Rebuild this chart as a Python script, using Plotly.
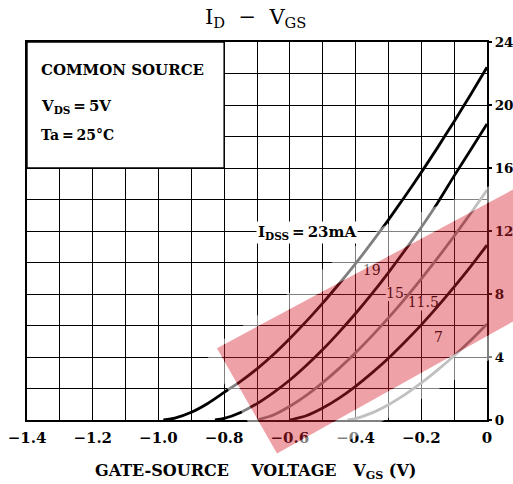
import plotly.graph_objects as go

# ---- data ----
vgs_23 = [-0.985, -0.95, -0.9, -0.85, -0.8, -0.75, -0.7, -0.65, -0.6, -0.55, -0.5,
          -0.45, -0.4, -0.35, -0.3, -0.25, -0.2, -0.15, -0.1, -0.05, 0.0]
id_23 = [0.0, 0.12, 0.49, 1.05, 1.75, 2.45, 3.25, 4.16, 5.18, 6.26, 7.42,
         8.65, 9.93, 11.29, 12.71, 14.19, 15.72, 17.31, 18.96, 20.65, 22.4]

vgs_19 = [-0.828, -0.8, -0.75, -0.7, -0.65, -0.6, -0.55, -0.5, -0.45, -0.4,
          -0.35, -0.3, -0.25, -0.2, -0.15, -0.1, -0.05, 0.0]
id_19 = [0.0, 0.1, 0.48, 1.04, 1.74, 2.54, 3.46, 4.47, 5.58, 6.76,
         8.02, 9.36, 10.77, 12.24, 13.8, 15.5, 17.15, 18.8]

vgs_15 = [-0.70, -0.65, -0.6, -0.55, -0.5, -0.45, -0.4, -0.35, -0.3, -0.25,
          -0.2, -0.15, -0.1, -0.05, 0.0]
id_15 = [0.0, 0.32, 0.87, 1.56, 2.37, 3.28, 4.27, 5.34, 6.48, 7.69,
         8.96, 10.29, 11.68, 13.11, 14.6]

vgs_115 = [-0.6, -0.55, -0.5, -0.45, -0.4, -0.35, -0.3, -0.25, -0.2, -0.15,
           -0.1, -0.05, 0.0]
id_115 = [0.0, 0.27, 0.76, 1.39, 2.14, 2.99, 3.92, 4.95, 6.04, 7.21,
          8.45, 9.74, 11.1]

vgs_7 = [-0.425, -0.4, -0.35, -0.3, -0.25, -0.2, -0.15, -0.1, -0.05, 0.0]
id_7 = [0.0, 0.09, 0.45, 0.97, 1.61, 2.35, 3.18, 4.08, 5.05, 6.1]

curve_labels = ["19", "15", "11.5", "7"]
x_tick_vals = [-1.4, -1.2, -1.0, -0.8, -0.6, -0.4, -0.2, 0.0]
x_tick_text = ["\u22121.4", "\u22121.2", "\u22121.0", "\u22120.8", "\u22120.6",
               "\u22120.4", "\u22120.2", "0"]
y_tick_vals = [0, 4, 8, 12, 16, 20, 24]
y_tick_text = ["0", "4", "8", "12", "16", "20", "24"]

FONT = "DejaVu Serif"
BLACK = "#000000"
GRAY = "#808080"
NB = "\u00a0"

fig = go.Figure()

series = [
    (vgs_23, id_23, BLACK),
    (vgs_19, id_19, BLACK),
    (vgs_15, id_15, GRAY),
    (vgs_115, id_115, BLACK),
    (vgs_7, id_7, GRAY),
]
for xs, ys, col in series:
    fig.add_trace(go.Scatter(x=xs, y=ys, mode="lines",
                             line=dict(color=col, width=2.8, shape="spline", smoothing=0.6),
                             showlegend=False, hoverinfo="skip", cliponaxis=True))

# curve labels (as a text trace so the watermark tints them)
label_x = [-0.351, -0.280, -0.194, -0.148]
label_y = [9.45, 8.0, 7.4, 5.15]
fig.add_trace(go.Scatter(x=label_x, y=label_y, mode="text", text=curve_labels,
                         textfont=dict(family=FONT, size=14, color=BLACK),
                         textposition="middle center", showlegend=False,
                         hoverinfo="skip"))

shapes = []
# white patches behind curve labels (hide grid lines)
patch_w = [0.028, 0.028, 0.05, 0.016]
for lx, ly, w in zip(label_x, label_y, patch_w):
    shapes.append(dict(type="rect", xref="x", yref="y", x0=lx - w, x1=lx + w,
                       y0=ly - 0.45, y1=ly + 0.45, fillcolor="white",
                       line=dict(width=0), layer="between"))
# condition box
shapes.append(dict(type="rect", xref="x", yref="y", x0=-1.4, x1=-0.8, y0=16, y1=24,
                   fillcolor="white", line=dict(color=BLACK, width=1.4), layer="between"))
# watermark: white glow around a translucent red band
band = "M0.413,0.19 L1.06,0.612 L1.06,0.263 L0.5435,-0.0887 Z"
glow = "M0.387,0.1787 L0.7739,0.5122 L1.06,0.6445 L1.06,0.1972 L0.5565,-0.1548 Z"
shapes.append(dict(type="path", xref="paper", yref="paper", path=glow + " " + band,
                   fillrule="evenodd",
                   fillcolor="rgba(255,255,255,0.5)", line=dict(width=0), layer="above"))
shapes.append(dict(type="path", xref="paper", yref="paper", path=band,
                   fillcolor="rgba(215,30,45,0.42)", line=dict(width=0), layer="above"))

annotations = [
    dict(text="I<sub>D</sub>" + NB * 2 + "\u2212" + NB * 2 + "V<sub>GS</sub>",
         xref="paper", yref="paper",
         x=0.497, y=1.063, showarrow=False, xanchor="center", yanchor="middle",
         font=dict(family=FONT, size=21, color=BLACK)),
    dict(text="COMMON SOURCE", xref="paper", yref="paper", x=0.026, y=0.925,
         showarrow=False, xanchor="left", yanchor="middle",
         font=dict(family=FONT, size=15, color=BLACK, weight="bold")),
    dict(text="V<sub>DS</sub>\u2009=\u20095V", xref="paper", yref="paper", x=0.026, y=0.83,
         showarrow=False, xanchor="left", yanchor="middle",
         font=dict(family=FONT, size=15, color=BLACK, weight="bold")),
    dict(text="Ta\u2009=\u200925\u00b0C", xref="paper", yref="paper", x=0.026, y=0.755,
         showarrow=False, xanchor="left", yanchor="middle",
         font=dict(family=FONT, size=14, color=BLACK, weight="bold")),
    dict(text="I<sub>DSS</sub>\u2009=\u200923mA", xref="x", yref="y", x=-0.549, y=11.9,
         showarrow=False, xanchor="center", yanchor="middle", bgcolor="white",
         borderpad=1, font=dict(family=FONT, size=15, color=BLACK, weight="bold")),
    dict(text="GATE-SOURCE" + NB * 4 + "VOLTAGE" + NB * 3 + "V<sub>GS</sub> (V)",
         xref="paper", yref="paper", x=0.496, y=-0.135, showarrow=False,
         xanchor="center", yanchor="middle",
         font=dict(family=FONT, size=16, color=BLACK, weight="bold")),
]

fig.update_layout(
    width=513, height=484,
    margin=dict(l=27, r=26, t=42, b=64, autoexpand=False),
    paper_bgcolor="white", plot_bgcolor="white",
    shapes=shapes, annotations=annotations,
    font=dict(family=FONT, color=BLACK),
)
fig.update_xaxes(range=[-1.4, 0], tickmode="array", tickvals=x_tick_vals,
                 ticktext=x_tick_text, showgrid=True, gridcolor=BLACK, gridwidth=1.3,
                 minor=dict(dtick=0.1, tick0=0, showgrid=True, gridcolor=BLACK, gridwidth=1.3),
                 showline=True, linecolor=BLACK, linewidth=2, mirror=True,
                 ticks="", zeroline=False, ticklabelstandoff=3, automargin=False,
                 tickfont=dict(family=FONT, size=15, color=BLACK, weight="bold"))
fig.update_yaxes(range=[0, 24], side="right", tickmode="array", tickvals=y_tick_vals,
                 ticktext=y_tick_text, showgrid=True, gridcolor=BLACK, gridwidth=1.3,
                 minor=dict(dtick=2, tick0=0, showgrid=True, gridcolor=BLACK, gridwidth=1.3),
                 showline=True, linecolor=BLACK, linewidth=2, mirror=True,
                 ticks="outside", ticklen=3, tickcolor=BLACK, tickwidth=1.5,
                 zeroline=False, automargin=False,
                 tickfont=dict(family=FONT, size=13.5, color=BLACK, weight="bold"))

fig.write_html("out.html", config={"displayModeBar": False},
               post_script="document.body.style.margin='0';")
